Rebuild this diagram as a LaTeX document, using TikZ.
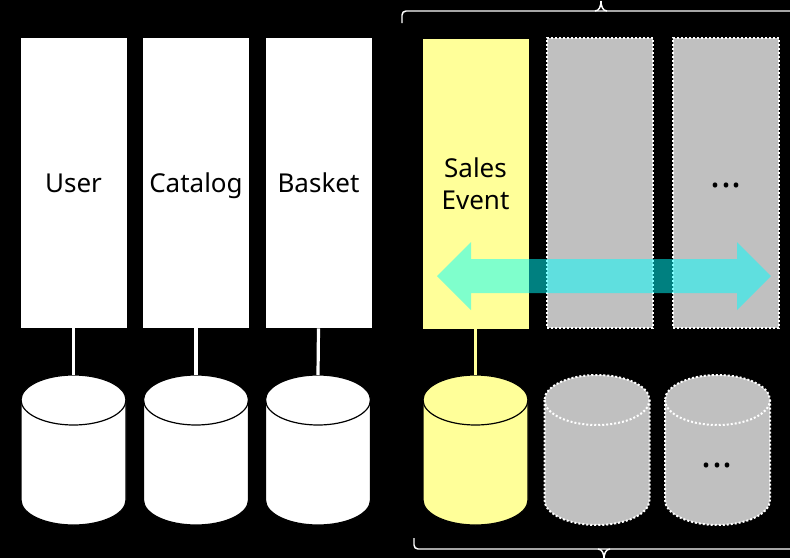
\documentclass[tikz,border=0pt]{standalone}
\usepackage{fontspec}
\setmainfont{Noto Sans}
\usetikzlibrary{positioning}
\definecolor{evtyellow}{HTML}{FFFF99}
\definecolor{ghostgray}{HTML}{C0C0C0}
\definecolor{slidecyan}{HTML}{00FFFF}
\tikzset{
  svc/.style={fill=white, minimum width=79.5pt, minimum height=217.5pt, inner sep=0pt,
    align=center, font=\fontsize{19.5}{24}\selectfont},
  svcone/.style={svc, text height=18.5pt, text depth=4pt},
  svcnew/.style={svc, fill=evtyellow},
  svcghost/.style={svc, fill=ghostgray, draw=white, line width=1.5pt, dash pattern=on 1.5pt off 1.5pt},
  link/.style={draw=white, line width=2.4pt},
  dbplain/.style={draw=black, line width=0.9pt},
  dbghost/.style={draw=white, line width=1.5pt, dash pattern=on 1.5pt off 1.5pt},
  dots/.style={font=\fontsize{28}{30}\selectfont\bfseries, solid},
  bracket/.style={draw=white, line width=1.1pt}
}
% one database drum: name, centre x, fill, outline style
\newcommand{\dbdrum}[4]{%
  \draw[#4, fill=#3] (#2-52.5,400) -- (#2-52.5,500)
    arc[start angle=180, end angle=0, x radius=52.5, y radius=25]
    -- (#2+52.5,400)
    arc[start angle=0, end angle=-180, x radius=52.5, y radius=25] -- cycle;
  \draw[#4] (#2-52.5,400) arc[start angle=180, end angle=0, x radius=52.5, y radius=25];
  \coordinate (#1) at (#2,375);
}

\begin{document}
\begin{tikzpicture}[x=0.75pt, y=-0.75pt]
  \fill[black] (0,0) rectangle (790,558);
  \useasboundingbox (0,0) rectangle (790,558);

  % services
  \node[svcone] (user) at (73.5,183) {User};
  \node[svcone] (catalog) at (196,183) {Catalog};
  \node[svcone] (basket) at (318.5,183) {Basket};
  \node[svcnew] (sales) at (475.5,183.5) {Sales\\Event};
  \node[svcghost] (more1) at (600,183) {};
  \node[svcghost] (more2) at (726,183) {};
  \node[dots] (moretext) at (726,185) {...};

  % databases
  \dbdrum{userdb}{73.5}{white}{dbplain}
  \dbdrum{catalogdb}{196}{white}{dbplain}
  \dbdrum{basketdb}{318}{white}{dbplain}
  \dbdrum{salesdb}{475.5}{evtyellow}{dbplain}
  \dbdrum{moredb1}{597}{ghostgray}{dbghost}
  \dbdrum{moredb2}{717.5}{ghostgray}{dbghost}
  \node[dots] (moredots) at (717,465) {...};

  \draw[link] (user.south) -- (userdb);
  \draw[link] (catalog.south) -- (catalogdb);
  \draw[link] (basket.south) -- (basketdb);
  \draw[link, draw=evtyellow] (sales.south) -- (salesdb);

  % sliding arrow
  \fill[slidecyan, fill opacity=0.5] (437,276) -- (471,242) -- (471,259) -- (737,259) -- (737,242)
    -- (771,276) -- (737,310) -- (737,293) -- (471,293) -- (471,310) -- cycle;

  % braces
  \draw[bracket, rounded corners=3] (402,23) |- (800,11);
  \draw[bracket] (595,11) to[out=0, in=-90] (601,1);
  \draw[bracket] (607,11) to[out=180, in=-90] (601,1);
  \draw[bracket, rounded corners=3] (414,538) |- (800,549);
  \draw[bracket] (598,549) to[out=0, in=90] (604,559);
  \draw[bracket] (610,549) to[out=180, in=90] (604,559);
\end{tikzpicture}
\end{document}
